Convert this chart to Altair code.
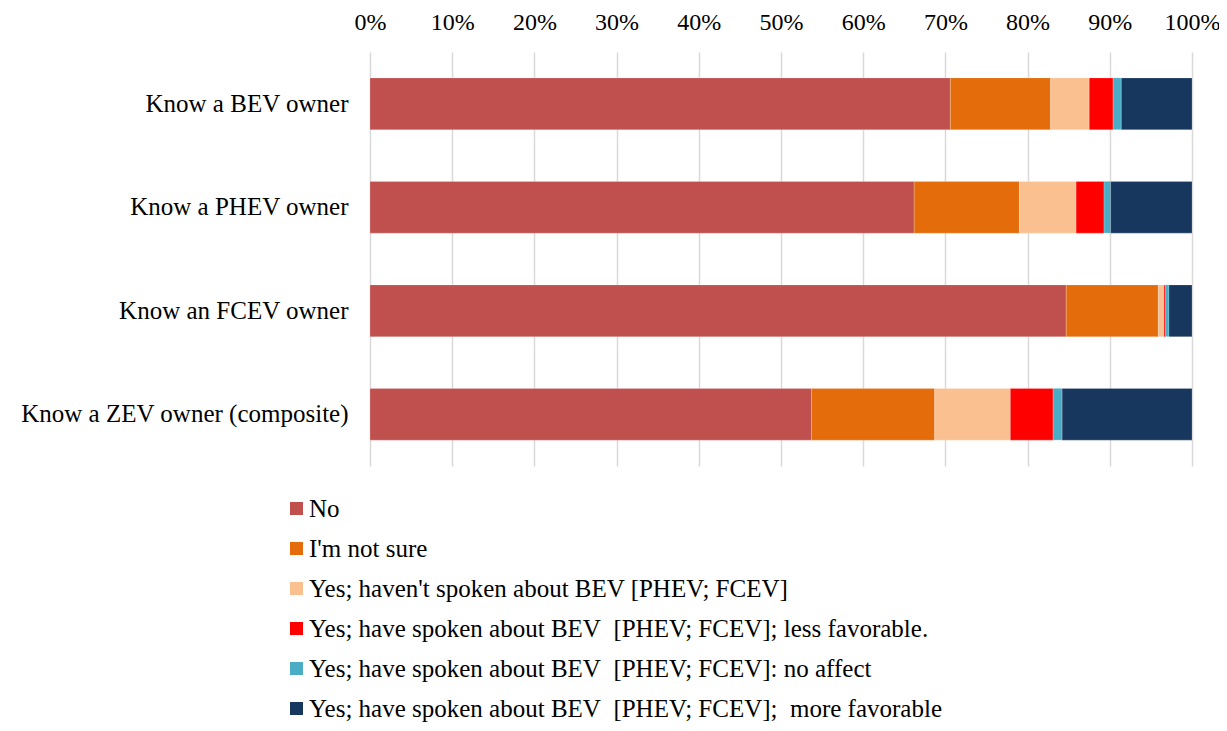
import altair as alt
import pandas as pd

categories = ["Know a BEV owner", "Know a PHEV owner", "Know an FCEV owner", "Know a ZEV owner (composite)"]
series = [
    "No",
    "I'm not sure",
    "Yes; haven't spoken about BEV [PHEV; FCEV]",
    "Yes; have spoken about BEV\u00a0 [PHEV; FCEV]; less favorable.",
    "Yes; have spoken about BEV\u00a0 [PHEV; FCEV]: no affect",
    "Yes; have spoken about BEV\u00a0 [PHEV; FCEV];\u00a0 more favorable",
]
colors = ["#C0504D", "#E46C0A", "#FAC090", "#FF0000", "#4BACC6", "#17375E"]

no_vals = [70.6, 66.2, 84.7, 53.7]
not_sure_vals = [12.2, 12.8, 11.2, 15.0]
havent_vals = [4.7, 6.9, 0.7, 9.2]
less_vals = [2.9, 3.4, 0.2, 5.2]
no_affect_vals = [1.0, 0.8, 0.4, 1.1]
more_vals = [8.6, 9.9, 2.8, 15.8]

all_vals = [no_vals, not_sure_vals, havent_vals, less_vals, no_affect_vals, more_vals]

rows = []
for si, (s, vals) in enumerate(zip(series, all_vals)):
    for c, v in zip(categories, vals):
        rows.append({"category": c, "series": s, "order": si, "value": v / 100.0})
df = pd.DataFrame(rows)

FONT = "Liberation Serif"
FS = 25

chart = alt.Chart(df).mark_bar(stroke="white", strokeWidth=0.5, strokeOpacity=0.4).encode(
    y=alt.Y("category:N", sort=categories, title=None,
            scale=alt.Scale(paddingInner=0.5, paddingOuter=0.25),
            axis=alt.Axis(labelFont=FONT, labelFontSize=FS, labelColor="black",
                          ticks=False, domain=False, labelPadding=22, labelLimit=500)),
    x=alt.X("value:Q", stack="zero", title=None,
            scale=alt.Scale(domain=[0, 1], nice=False),
            axis=alt.Axis(orient="top", format=".0%", values=[i / 10 for i in range(11)],
                          labelFont=FONT, labelFontSize=24, labelColor="black",
                          labelFlush=False, labelOverlap=False,
                          ticks=False, domain=False, grid=True, gridColor="#D9D9D9",
                          gridWidth=1.5, labelPadding=18)),
    color=alt.Color("series:N", sort=series, title=None,
                    scale=alt.Scale(domain=series, range=colors),
                    legend=alt.Legend(orient="none", legendX=-86, legendY=444,
                                      direction="vertical", columns=1,
                                      symbolType="square", symbolSize=169,
                                      symbolStrokeWidth=0, labelFont=FONT,
                                      labelFontSize=FS, labelColor="black",
                                      labelLimit=900, rowPadding=14, padding=0,
                                      labelOffset=0)),
    order=alt.Order("order:Q", sort="ascending"),
).properties(
    width=822, height=414,
    autosize=alt.AutoSizeParams(type="none"),
    padding={"left": 362, "top": 44, "right": 27, "bottom": 257},
).configure_view(stroke=None)

chart.save("out.html", embed_options={"renderer": "svg", "actions": False})
